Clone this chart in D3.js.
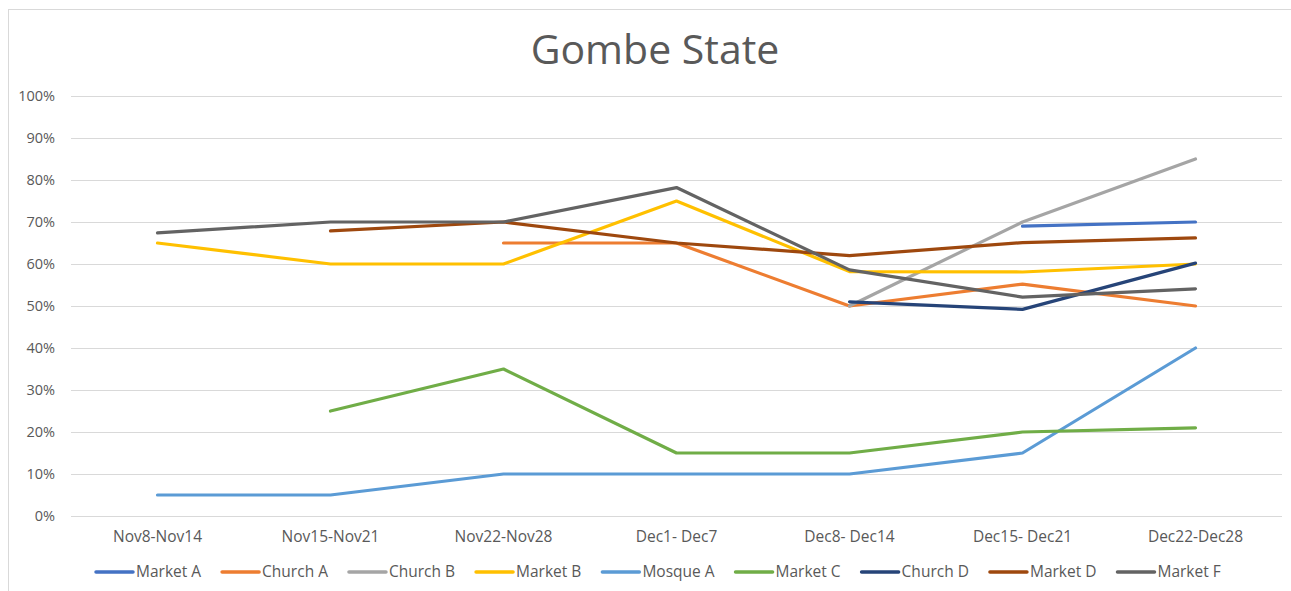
<!DOCTYPE html>
<html>
<head>
<meta charset="utf-8">
<script src="https://cdn.jsdelivr.net/npm/d3@7"></script>
<style>
  body { margin: 0; background: #fff; }
  svg { font-family: "Open Sans", "Noto Sans", sans-serif; }
</style>
</head>
<body>
<div id="chart"></div>
<script>
// week buckets along the x axis
var weeks = ["Nov8-Nov14", "Nov15-Nov21", "Nov22-Nov28", "Dec1- Dec7", "Dec8- Dec14", "Dec15- Dec21", "Dec22-Dec28"]

// one list per site, null where there is no reading
var marketA = [null, null, null, null, null, 69, 70]
var churchA = [null, null, 65, 65, 50, 55.2, 50]
var churchB = [null, null, null, null, 50, 70, 85]
var marketB = [65, 60, 60, 75, 58.2, 58.1, 60]
var mosqueA = [5, 5, 10, 10, 10, 15, 40]
var marketC = [null, 25, 35, 15, 15, 20, 21]
var churchD = [null, null, null, null, 51, 49.2, 60.2]
var marketD = [null, 67.9, 70, 65, 62, 65.1, 66.2]
var marketF = [67.4, 70, 70, 78.2, 58.6, 52.1, 54.1]

var seriesNames = ["Market A", "Church A", "Church B", "Market B", "Mosque A", "Market C", "Church D", "Market D", "Market F"]
var seriesValues = [marketA, churchA, churchB, marketB, mosqueA, marketC, churchD, marketD, marketF]
var seriesColours = ["#4472C4", "#ED7D31", "#A5A5A5", "#FFC000", "#5B9BD5", "#70AD47", "#264478", "#9E480E", "#636363"]

var yTicks = [0, 10, 20, 30, 40, 50, 60, 70, 80, 90, 100]

var w = 1291, h = 591
var textColour = "#595959"

var svg = d3.select("#chart")
	.append("svg")
	.attr("width", w)
	.attr("height", h)

// chart frame (runs off the right and bottom edges)
svg.append("rect")
	.attr("x", 8.5).attr("y", 9.5)
	.attr("width", w).attr("height", h)
	.style("fill", "none")
	.style("stroke", "#d9d9d9")

svg.append("text")
	.attr("x", 655).attr("y", 64)
	.attr("text-anchor", "middle")
	.style("font-size", "41px")
	.style("fill", textColour)
	.text("Gombe State")

var plot = { left: 71, right: 1282, top: 96, bottom: 516 }

var x = d3.scaleBand()
	.domain(weeks)
	.range([plot.left, plot.right])

var y = d3.scaleLinear()
	.domain([0, 100])
	.range([plot.bottom, plot.top])

// gridlines
svg.append("g")
	.selectAll("line")
	.data(yTicks)
	.enter()
	.append("line")
	.attr("x1", plot.left).attr("x2", plot.right)
	.attr("y1", function(d) { return Math.round(y(d)) + 0.5 })
	.attr("y2", function(d) { return Math.round(y(d)) + 0.5 })
	.style("stroke", "#d9d9d9")
	.style("stroke-width", 1)

// y axis labels
var yAxis = svg.append("g")
	.attr("transform", "translate(" + (plot.left - 13) + ",0)")
	.call(d3.axisLeft(y).tickValues(yTicks).tickSize(0).tickFormat(function(d) { return d + "%" }))
yAxis.select(".domain").remove()
yAxis.selectAll("text")
	.style("font-family", "'Open Sans', sans-serif")
	.style("font-size", "14.5px")
	.style("fill", textColour)

// x axis labels
var xAxis = svg.append("g")
	.attr("transform", "translate(0," + (plot.bottom + 12) + ")")
	.call(d3.axisBottom(x).tickSize(0))
xAxis.select(".domain").remove()
xAxis.selectAll("text")
	.style("font-family", "'Open Sans', sans-serif")
	.style("font-size", "15.5px")
	.style("fill", textColour)

// lines
var line = d3.line()
	.defined(function(d) { return d != null })
	.x(function(d, i) { return x(weeks[i]) + x.bandwidth() / 2 })
	.y(function(d) { return y(d) })

svg.append("g")
	.selectAll("path")
	.data(seriesValues)
	.enter()
	.append("path")
	.attr("d", line)
	.style("fill", "none")
	.style("stroke", function(d, i) { return seriesColours[i] })
	.style("stroke-width", 3.2)
	.style("stroke-linecap", "round")
	.style("stroke-linejoin", "round")

// legend, laid out left to right by text width
var legend = svg.append("g").attr("transform", "translate(0,572)")
var lx = 96
seriesNames.forEach(function(name, i) {
	var item = legend.append("g").attr("transform", "translate(" + lx + ",0)")
	item.append("line")
		.attr("x1", 0).attr("x2", 37)
		.style("stroke", seriesColours[i])
		.style("stroke-width", 3.5)
		.style("stroke-linecap", "round")
	var t = item.append("text")
		.attr("x", 40).attr("dy", "0.35em")
		.style("font-size", "15.5px")
		.style("fill", textColour)
		.text(name)
	lx += 40 + t.node().getComputedTextLength() + 21
})
</script>
</body>
</html>
